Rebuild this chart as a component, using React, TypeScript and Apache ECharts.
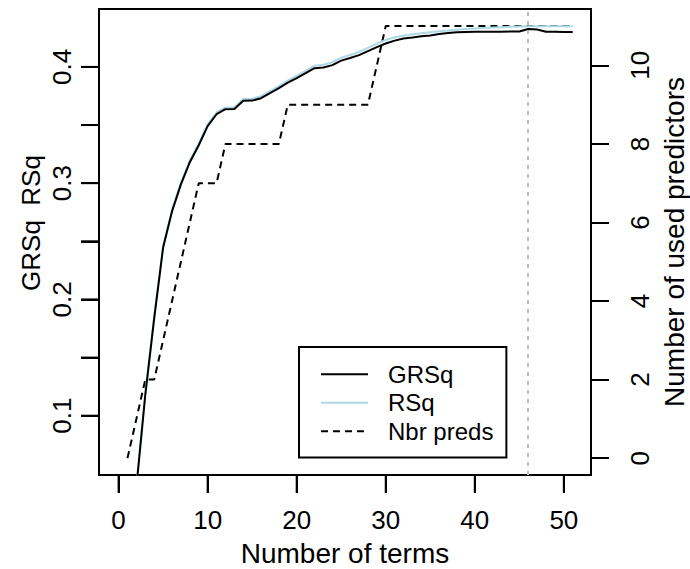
import React, { useEffect, useRef } from "react";
import * as echarts from "echarts";

const terms = [
  1, 2, 3, 4, 5, 6, 7, 8, 9, 10, 11, 12, 13, 14, 15, 16, 17, 18, 19, 20, 21, 22, 23, 24, 25,
  26, 27, 28, 29, 30, 31, 32, 33, 34, 35, 36, 37, 38, 39, 40, 41, 42, 43, 44, 45, 46, 47, 48,
  49, 50, 51,
];
const grsq = [
  0.0, 0.0386, 0.118, 0.184, 0.2446, 0.2757, 0.299, 0.318, 0.3326, 0.349, 0.3593, 0.3636,
  0.3638, 0.3708, 0.371, 0.3731, 0.3774, 0.3817, 0.3864, 0.3903, 0.3946, 0.3989, 0.3995,
  0.4015, 0.4054, 0.4076, 0.4101, 0.4136, 0.417, 0.4201, 0.4226, 0.4244, 0.4252, 0.4263,
  0.4271, 0.4283, 0.4291, 0.4297, 0.43, 0.4302, 0.4302, 0.4303, 0.4303, 0.4304, 0.4305,
  0.4326, 0.4322, 0.4302, 0.4302, 0.4301, 0.4301,
];
const rsq = [
  0.0, 0.04, 0.1195, 0.1855, 0.246, 0.2772, 0.3005, 0.3195, 0.3341, 0.3505, 0.3608, 0.3651,
  0.3654, 0.3724, 0.3727, 0.3748, 0.3791, 0.3835, 0.3882, 0.3922, 0.3966, 0.401, 0.4018,
  0.404, 0.4079, 0.4102, 0.4128, 0.4164, 0.4199, 0.4232, 0.4255, 0.4268, 0.428, 0.429,
  0.4298, 0.4306, 0.4314, 0.432, 0.4326, 0.4331, 0.4335, 0.4339, 0.4342, 0.4345, 0.4347,
  0.4349, 0.435, 0.435, 0.435, 0.435, 0.435,
];
const nbrPreds = [
  0, 1, 2, 2, 3, 4, 5, 6, 7, 7, 7, 8, 8, 8, 8, 8, 8, 8, 9, 9, 9, 9, 9, 9, 9, 9, 9, 9, 10, 11,
  11, 11, 11, 11, 11, 11, 11, 11, 11, 11, 11, 11, 11, 11, 11, 11, 11, 11, 11, 11, 11,
];
const xTicks = [0, 10, 20, 30, 40, 50];
const leftTicks = [0.1, 0.15, 0.2, 0.25, 0.3, 0.35, 0.4];
const leftLabels = [0.1, 0.2, 0.3, 0.4];
const rightTicks = [0, 2, 4, 6, 8, 10];
const selectedTerms = 46;

const FONT = "'Liberation Sans', Arial, Helvetica, sans-serif";
const X_MIN = -2.2;
const X_MAX = 53.05;
const L_MIN = 0.049;
const L_MAX = 0.4498;
const TICK_LEN = 18;

export default function App() {
  const ref = useRef<HTMLDivElement>(null);
  useEffect(() => {
    const chart = echarts.init(ref.current!, null, { renderer: "svg" });
    const tick = { show: true, inside: false, length: TICK_LEN, lineStyle: { color: "#000", width: 2 } };
    const noLine = { show: false, onZero: false };
    chart.setOption({
      animation: false,
      textStyle: { fontFamily: FONT },
      grid: {
        left: 99,
        top: 9,
        width: 492,
        height: 466,
        show: true,
        borderColor: "#000",
        borderWidth: 2,
        backgroundColor: "transparent",
        containLabel: false,
        outerBoundsMode: "none",
      },
      xAxis: {
        type: "value",
        min: X_MIN,
        max: X_MAX,
        axisLine: noLine,
        splitLine: { show: false },
        axisTick: { ...tick, customValues: xTicks },
        axisLabel: {
          show: true,
          customValues: xTicks,
          fontSize: 26,
          color: "#000",
          margin: 32,
          fontFamily: FONT,
        },
        name: "Number of terms",
        nameLocation: "middle",
        nameGap: 64,
        nameTextStyle: { fontSize: 28, color: "#000", fontFamily: FONT },
      },
      yAxis: [
        {
          type: "value",
          position: "left",
          min: L_MIN,
          max: L_MAX,
          axisLine: noLine,
          splitLine: { show: false },
          axisTick: { ...tick, customValues: leftTicks },
          axisLabel: {
            show: true,
            customValues: leftLabels,
            rotate: 90,
            fontSize: 26,
            color: "#000",
            margin: 24,
            fontFamily: FONT,
            formatter: (v: number) => v.toFixed(1),
          },
        },
        {
          type: "value",
          position: "right",
          min: -0.429,
          max: 11.435,
          axisLine: noLine,
          splitLine: { show: false },
          axisTick: { ...tick, customValues: rightTicks },
          axisLabel: {
            show: true,
            customValues: rightTicks,
            rotate: 90,
            fontSize: 26,
            color: "#000",
            margin: 36,
            fontFamily: FONT,
          },
          name: "Number of used predictors",
          nameLocation: "middle",
          nameRotate: 90,
          nameGap: 64,
          nameTextStyle: { fontSize: 28, color: "#000", fontFamily: FONT },
        },
      ],
      legend: {
        show: true,
        orient: "vertical",
        left: 299,
        top: 347,
        padding: [13, 13, 12, 21],
        borderColor: "#000",
        borderWidth: 2,
        backgroundColor: "#fff",
        itemWidth: 47,
        itemHeight: 14,
        itemGap: 0,
        selectedMode: false,
        itemStyle: { opacity: 0, borderWidth: 0 },
        textStyle: {
          fontSize: 24,
          color: "#000",
          lineHeight: 28.5,
          fontFamily: FONT,
          padding: [0, 0, 0, 15],
        },
        data: [{ name: "GRSq" }, { name: "RSq" }, { name: "Nbr preds" }],
      },
      graphic: [
        {
          type: "text",
          x: 31,
          y: 223,
          rotation: Math.PI / 2,
          style: {
            text: "GRSq  RSq",
            fontSize: 26,
            fontFamily: FONT,
            fill: "#000",
            align: "center",
            verticalAlign: "middle",
          },
        },
      ],
      series: [
        {
          type: "custom",
          silent: true,
          clip: false,
          z: 1,
          data: xTicks.map((v) => [v, L_MIN]),
          encode: { x: 0, y: 1 },
          renderItem: (params: any, api: any) => {
            const p = api.coord([api.value(0), api.value(1)]);
            return {
              type: "line",
              shape: { x1: p[0], y1: p[1], x2: p[0], y2: p[1] + TICK_LEN },
              style: { stroke: "#000", lineWidth: 2 },
            };
          },
        },
        {
          type: "custom",
          silent: true,
          clip: false,
          z: 1,
          data: leftTicks.map((v) => [X_MIN, v]),
          encode: { x: 0, y: 1 },
          renderItem: (params: any, api: any) => {
            const p = api.coord([api.value(0), api.value(1)]);
            return {
              type: "line",
              shape: { x1: p[0] - TICK_LEN, y1: p[1], x2: p[0], y2: p[1] },
              style: { stroke: "#000", lineWidth: 2 },
            };
          },
        },
        {
          name: "Nbr preds",
          type: "line",
          yAxisIndex: 1,
          symbol: "none",
          z: 2,
          data: nbrPreds.map((v, i) => [terms[i], v]),
          lineStyle: { color: "#000", width: 2, type: [7, 5] },
          itemStyle: { color: "#000" },
          markLine: {
            silent: true,
            symbol: "none",
            label: { show: false },
            lineStyle: { color: "#bebebe", type: [4, 5], width: 2 },
            data: [{ xAxis: selectedTerms }],
          },
        },
        {
          name: "RSq",
          type: "line",
          symbol: "none",
          z: 3,
          data: rsq.map((v, i) => [terms[i], v]),
          lineStyle: { color: "#ADD8E6", width: 2 },
          itemStyle: { color: "#ADD8E6" },
        },
        {
          name: "GRSq",
          type: "line",
          symbol: "none",
          z: 4,
          data: grsq.map((v, i) => [terms[i], v]),
          lineStyle: { color: "#000", width: 2 },
          itemStyle: { color: "#000" },
        },
      ],
    });
    return () => chart.dispose();
  }, []);
  return (
    <div
      ref={ref}
      style={{ position: "fixed", left: 0, top: 0, width: 690, height: 569, background: "#fff" }}
    />
  );
}
